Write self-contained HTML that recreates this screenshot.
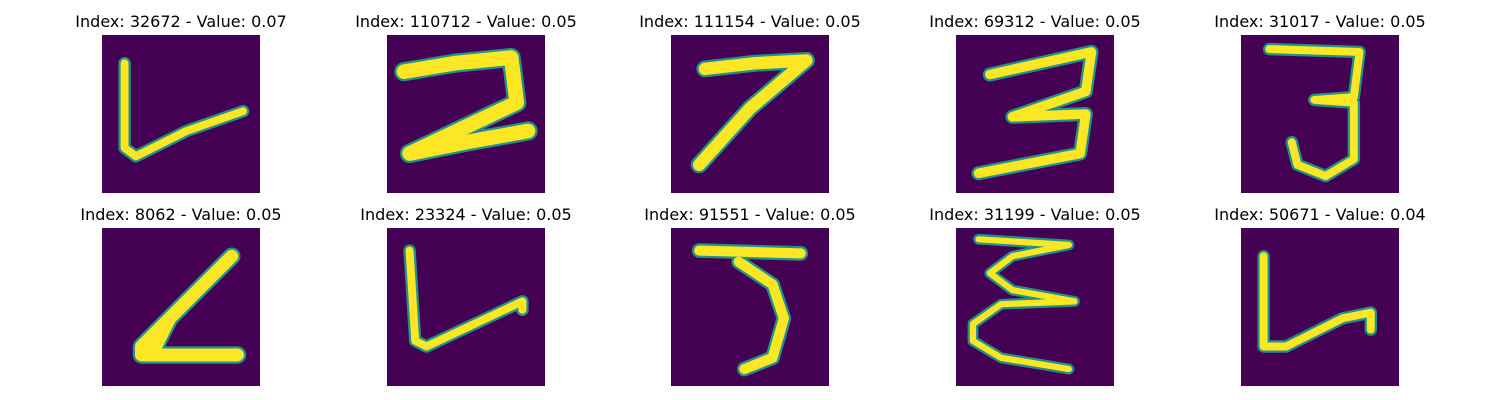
<!DOCTYPE html>
<html><head><meta charset="utf-8">
<style>
body{margin:0;background:#fff;width:1500px;height:400px;overflow:hidden;font-family:"DejaVu Sans","Liberation Sans",sans-serif;}
svg{display:block}
</style></head>
<body>
<svg id="chart" width="1500" height="400" xmlns="http://www.w3.org/2000/svg"></svg>
<script>
const indices=[32672,110712,111154,69312,31017,8062,23324,91551,31199,50671];
const values=[0.07,0.05,0.05,0.05,0.05,0.05,0.05,0.05,0.05,0.04];
const strokes=[
 [[4,5],[4,20],[6,21.5],[15,17],[25,13.5]],
 [[3,6.5],[12,5],[22,4],[23,12],[4,21],[14,19],[25,17]],
 [[6,6],[15,5],[24,4.5],[14,13],[5,23]],
 [[6,7],[15,5],[24,3],[23,10],[10,14.5],[23,14],[22,21],[4,24.5]],
 [[5,2.5],[21,3],[20,11],[13,11.5],[20,12],[20,22],[15,25],[10,23],[9,19]],
 [[23,5],[13,15],[7,21],[7,22.5],[24,22.5]],
 [[4,4],[5,20],[7,21],[24,13],[24,14.5]],
 [[5,4],[23,4.5]],
 [[4,2],[20,3],[10,5],[6,8],[10,11],[21,13],[8,13.5],[3,17],[3,20],[8,23],[20,25]],
 [[4,5],[4,21],[8,21],[18,16],[23,15],[23,18]]
];
const widths=[1.4,2.6,2.2,1.7,1.4,2.3,1.4,1.8,1.1,1.4];
const extra={5:[[12,16],[9,22]],7:[[12,6],[18,10],[20,16],[18,23],[13,25]]};
const NS="http://www.w3.org/2000/svg";
const svg=document.getElementById('chart');
const xs=[102,387,671,956,1241], ys=[35,228], S=158;
function poly(g,pts,ox,oy,w,col){
  const p=document.createElementNS(NS,'polyline');
  p.setAttribute('points',pts.map(q=>(ox+q[0]*S/28)+','+(oy+q[1]*S/28)).join(' '));
  p.setAttribute('fill','none');p.setAttribute('stroke',col);
  p.setAttribute('stroke-width',w*S/28);p.setAttribute('stroke-linejoin','round');p.setAttribute('stroke-linecap','round');
  
  
  g.appendChild(p);
}
indices.forEach((idx,i)=>{
  const ox=xs[i%5], oy=ys[Math.floor(i/5)];
  const g=document.createElementNS(NS,'g');
  
  
  const r=document.createElementNS(NS,'rect');
  r.setAttribute('x',ox);r.setAttribute('y',oy);r.setAttribute('width',S);r.setAttribute('height',S);r.setAttribute('fill','#440154');
  
  
  g.appendChild(r);
  const all=[strokes[i]].concat(extra[i]?[extra[i]]:[]);
  all.forEach(s=>poly(g,s,ox,oy,widths[i]+0.8,'#21918c'));
  all.forEach(s=>poly(g,s,ox,oy,widths[i],'#fde725'));
  const t=document.createElementNS(NS,'text');
  t.setAttribute('x',ox+S/2);t.setAttribute('y',oy-8);t.setAttribute('text-anchor','middle');
  t.setAttribute('font-size','16');t.setAttribute('fill','#000');
  t.setAttribute('font-family','DejaVu Sans, Liberation Sans, sans-serif');
  t.textContent='Index: '+idx+' - Value: '+values[i].toFixed(2);
  
  
  g.appendChild(t);
  svg.appendChild(g);
});
</script>
</body></html>
